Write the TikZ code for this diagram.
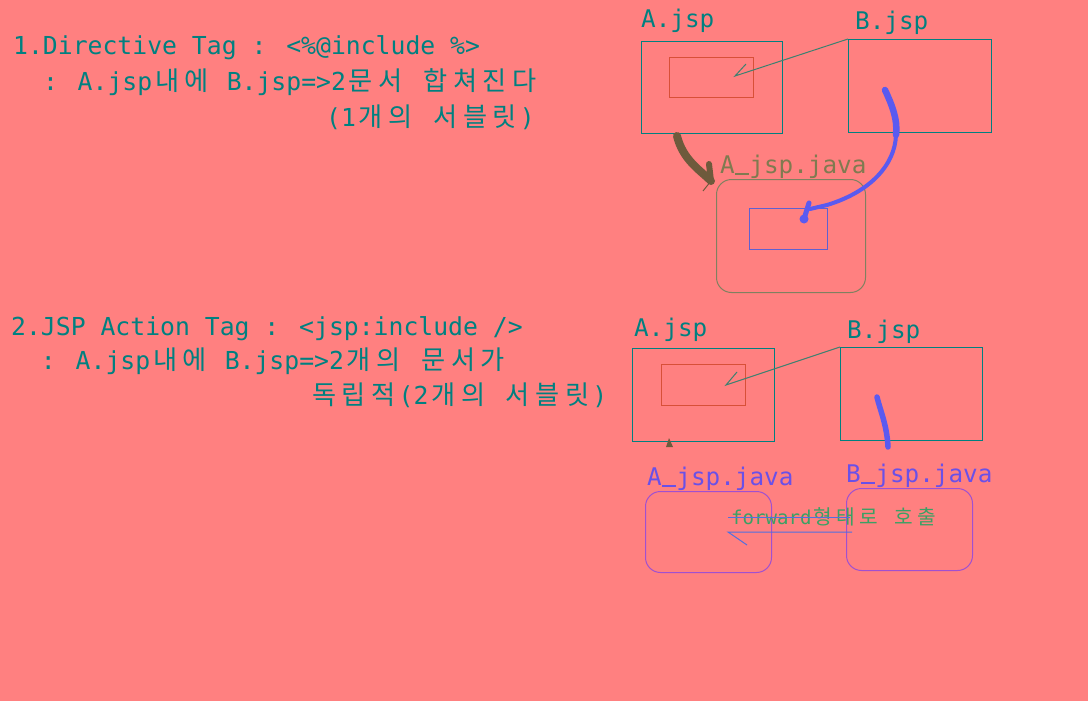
\documentclass[tikz,border=0pt]{standalone}
\usepackage{fontspec}
\newfontfamily\mono{DejaVu Sans Mono}
\newfontfamily\kr[Scale=1.06]{Noto Sans CJK KR}
\newlength\cw \setlength\cw{14.9pt}
\makeatletter
\def\hg#1{\hg@loop#1\relax}
\def\hg@loop#1{\ifx#1\relax\else\makebox[2\cw][c]{\kr #1}\expandafter\hg@loop\fi}
\makeatother
\newcommand\us{\makebox[0.602em][c]{\rule[-1.5pt]{0.55em}{1.3pt}}}
\definecolor{bg}{HTML}{FF8080}
\definecolor{tealc}{HTML}{008080}
\definecolor{redc}{HTML}{D85038}
\definecolor{lnkc}{HTML}{3C8070}
\definecolor{brnc}{HTML}{6E5A3C}
\definecolor{olivec}{HTML}{807A50}
\definecolor{olivebox}{HTML}{808060}
\definecolor{bluebox}{HTML}{6060D0}
\definecolor{bluc}{HTML}{5A5AF0}
\definecolor{purc}{HTML}{6A50E8}
\definecolor{purbox}{HTML}{A050D0}
\definecolor{grnc}{HTML}{3CA064}
\definecolor{fwdc}{HTML}{5070E0}
\begin{document}
\begin{tikzpicture}[x=1pt,y=-1pt,
  txt/.style={anchor=base west, inner sep=0, text=tealc, font=\mono\fontsize{24.75}{30}\selectfont},
  lbl/.style={anchor=base west, inner sep=0, font=\mono\fontsize{24.3}{28}\selectfont},
  box/.style={draw=tealc, line width=1pt, inner sep=0, anchor=north west},
  rbox/.style={box, rounded corners=15pt},
  lnk/.style={draw=lnkc, line width=1pt},
  fwd/.style={draw=fwdc, line width=1pt},
  brn/.style={draw=brnc, line cap=round},
  blu/.style={draw=bluc, line cap=round}]
\fill[bg] (0,0) rectangle (1088,701);
% ---- texts
\node[txt] (t11) at (13,55) {1.Directive Tag : <\%@include \%>};
\node[txt] (t12) at (42.8,91) {: A.jsp\hg{내에} B.jsp=>2\hg{문서} \hg{합쳐진다}};
\node[txt] (t13) at (325.9,126) {(1\hg{개의} \hg{서블릿})};
\node[txt] (t21) at (11,335) {2.JSP Action Tag : <jsp:include />};
\node[txt] (t22) at (40.8,369) {: A.jsp\hg{내에} B.jsp=>2\hg{개의} \hg{문서가}};
\node[txt] (t23) at (309,404) {\hg{독립적}(2\hg{개의} \hg{서블릿})};
% ---- section 1 diagram
\node[lbl, text=tealc] (la1) at (641,28) {A.jsp};
\node[lbl, text=tealc] (lb1) at (855,30) {B.jsp};
\node[box, minimum width=141pt, minimum height=92pt] (A1) at (641,41) {};
\node[box, draw=redc, minimum width=84pt, minimum height=40pt] (a1) at (669,57) {};
\node[box, minimum width=143pt, minimum height=93pt] (B1) at (848,39) {};
\node[lbl, text=olivec] (lj1) at (720,173) {A\us jsp.java};
\node[rbox, draw=olivebox, minimum width=149pt, minimum height=113pt] (J1) at (716,179) {};
\node[box, draw=bluebox, minimum width=78pt, minimum height=41pt] (j1) at (749,208) {};
\coordinate (p1) at (735,76);
\coordinate (q1) at (746,64);
\draw[lnk] (B1.north west) -- (p1) -- (q1);
% brown arrow
\coordinate (bs) at (677,136);
\coordinate (be) at (711,181);
\draw[brn, line width=8pt] (bs) .. controls (683,160) and (700,170) .. (be);
\coordinate (bsp) at (709,164);
\draw[brn, line width=6pt] (bsp) -- (be);
\coordinate (bt) at (703,191);
\draw[draw=brnc, line width=1pt] (be) -- (bt);
% blue arrow
\coordinate (us) at (885,90);
\coordinate (um) at (896,135);
\coordinate (ue) at (810,209);
\draw[blu, line width=6.5pt] (us) .. controls (892,105) and (898,120) .. (um);
\draw[blu, line width=4pt] (um) .. controls (895,165) and (870,192) .. (827,205) -- (ue);
\coordinate (usp) at (809,203);
\coordinate (uh) at (804,219);
\draw[blu, line width=5pt] (usp) -- (uh);
\fill[bluc] (uh) circle (4.5);
% ---- section 2 diagram
\node[lbl, text=tealc] (la2) at (634,336) {A.jsp};
\node[lbl, text=tealc] (lb2) at (847,338) {B.jsp};
\node[box, minimum width=142pt, minimum height=93pt] (A2) at (632,348) {};
\node[box, draw=redc, minimum width=84pt, minimum height=41pt] (a2) at (661,364) {};
\node[box, minimum width=142pt, minimum height=93pt] (B2) at (840,347) {};
\coordinate (p2) at (726,385);
\coordinate (q2) at (737,372);
\draw[lnk] (B2.north west) -- (p2) -- (q2);
\fill[brnc] (666,447) -- (669,438) -- (673,447) -- cycle;
\coordinate (vs) at (877,397);
\coordinate (ve) at (888,447);
\draw[blu, line width=5.5pt] (vs) .. controls (880,410) and (887,425) .. (ve);
\node[lbl, text=purc] (lj2) at (647,485) {A\us jsp.java};
\node[lbl, text=purc] (lk2) at (846,482) {B\us jsp.java};
\node[rbox, draw=purbox, minimum width=126pt, minimum height=81pt] (J2) at (645,491) {};
\node[rbox, draw=purbox, minimum width=126pt, minimum height=82pt] (K2) at (846,488) {};
\node[anchor=base west, inner sep=0, text=grnc, font=\mono\fontsize{19.1}{22}\selectfont] (fw) at (731,524) {\setlength\cw{11.5pt}forward\hg{형태로} \hg{호출}};
\coordinate (f1s) at (728,517);
\coordinate (f1e) at (850,517);
\coordinate (f2s) at (728,532);
\coordinate (f2e) at (852,532);
\coordinate (f2t) at (747,545);
\draw[fwd] (f1s) -- (f1e);
\draw[fwd] (f2e) -- (f2s) -- (f2t);
\end{tikzpicture}
\end{document}
